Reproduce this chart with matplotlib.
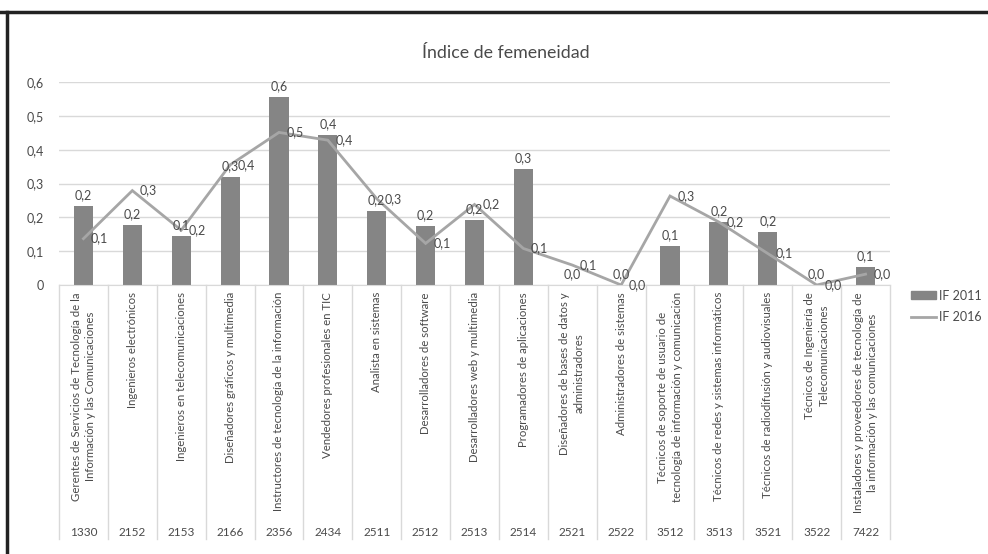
import numpy as np
import matplotlib
matplotlib.use("Agg")
import matplotlib.pyplot as plt
from matplotlib.lines import Line2D
from matplotlib.patches import Patch
from matplotlib.ticker import FuncFormatter
import matplotlib.transforms as mtransforms

plt.rcParams["font.family"] = ["Lato", "DejaVu Sans"]

# Daten
codigos = ["1330", "2152", "2153", "2166", "2356", "2434", "2511", "2512", "2513",
           "2514", "2521", "2522", "3512", "3513", "3521", "3522", "7422"]
ocupaciones = [
    "Gerentes de Servicios de Tecnología de la\nInformación y las Comunicaciones",
    "Ingenieros electrónicos",
    "Ingenieros en telecomunicaciones",
    "Diseñadores gráficos y multimedia",
    "Instructores de tecnología de la información",
    "Vendedores profesionales en TIC",
    "Analista en sistemas",
    "Desarrolladores de software",
    "Desarrolladores web y multimedia",
    "Programadores de aplicaciones",
    "Diseñadores de bases de datos y\nadministradores",
    "Administradores de sistemas",
    "Técnicos de soporte de usuario de\ntecnología de información y comunicación",
    "Técnicos de redes y sistemas informáticos",
    "Técnicos de radiodifusión y audiovisuales",
    "Técnicos de Ingeniería de\nTelecomunicaciones",
    "Instaladores y proveedores de tecnología de\nla información y las comunicaciones",
]
if_2011 = [0.233, 0.176, 0.144, 0.318, 0.556, 0.443, 0.218, 0.173, 0.193,
           0.342, 0.0, 0.0, 0.116, 0.185, 0.157, 0.0, 0.052]
if_2016 = [0.137, 0.279, 0.162, 0.355, 0.451, 0.428, 0.255, 0.123, 0.238,
           0.108, 0.059, 0.0, 0.263, 0.186, 0.093, 0.0, 0.032]

texto = "#4a4a4a"
gris_barra = "#858585"
gris_linea = "#a6a6a6"
gris_grid = "#d9d9d9"

def coma(v):
    return f"{v:.1f}".replace(".", ",")

fig = plt.figure(figsize=(9.88, 5.54), dpi=100)
ax = fig.add_axes([59 / 988, 1 - 285 / 554, (890 - 59) / 988, (285 - 82) / 554])

x = np.arange(len(codigos))
ax.bar(x, if_2011, width=0.39, color=gris_barra, zorder=2)
ax.plot(x, if_2016, color=gris_linea, lw=2.0, zorder=3, solid_joinstyle="miter")

for xi, v in zip(x, if_2011):
    ax.annotate(coma(v), (xi, v), xytext=(0, 3.5), textcoords="offset points",
                ha="center", va="bottom", fontsize=9, color=texto, zorder=4)
for xi, v in zip(x, if_2016):
    ax.annotate(coma(v), (xi, v), xytext=(5.5, 0), textcoords="offset points",
                ha="left", va="center", fontsize=9, color=texto, zorder=4)

ax.set_xlim(-0.5, len(codigos) - 0.5)
ax.set_ylim(0, 0.6)
ax.set_yticks(np.arange(0, 0.61, 0.1))
ax.yaxis.set_major_formatter(FuncFormatter(lambda v, p: "0" if abs(v) < 1e-9 else coma(v)))
ax.tick_params(axis="y", length=0, pad=11, labelsize=9, labelcolor=texto)
ax.set_xticks([])
ax.grid(axis="y", color=gris_grid, lw=1, zorder=0)
for s in ["top", "right", "left"]:
    ax.spines[s].set_visible(False)
ax.spines["bottom"].set_color(gris_grid)

# Tabla de categorias debajo del eje
trans = mtransforms.blended_transform_factory(ax.transData, ax.transAxes)
y_fin = (285 - 539) / (285 - 82)
for b in np.arange(-0.5, len(codigos), 1.0):
    ax.add_line(Line2D([b, b], [0, y_fin], transform=trans, color=gris_grid,
                       lw=1, clip_on=False))
for xi, lab, cod in zip(x, ocupaciones, codigos):
    ax.text(xi, -0.035, lab, transform=trans, rotation=90, ha="center", va="top",
            fontsize=8.2, color=texto, linespacing=1.4, multialignment="center")
    ax.text(xi, (285 - 532) / (285 - 82), cod, transform=trans, ha="center",
            va="center", fontsize=8.5, color=texto)

fig.text(506 / 988, 1 - 53 / 554, "Índice de femeneidad", ha="center", va="center",
         fontsize=12.8, color=texto)

handles = [Patch(color=gris_barra), Line2D([], [], color=gris_linea, lw=2)]
fig.legend(handles, ["IF 2011", "IF 2016"], loc="center left",
           bbox_to_anchor=(911 / 988, 1 - 306.5 / 554), frameon=False,
           fontsize=9, labelcolor=texto, handlelength=2.0, handleheight=0.6,
           handletextpad=0.25, labelspacing=0.75, borderpad=0, borderaxespad=0)

# Rahmen (oben und links)
fig.add_artist(Line2D([0, 1], [1 - 11.5 / 554] * 2, transform=fig.transFigure,
                      color="#222222", lw=2.5))
fig.add_artist(Line2D([7 / 988] * 2, [0, 1 - 11.5 / 554], transform=fig.transFigure,
                      color="#222222", lw=2.5))

fig.savefig("out.png", dpi=100)
